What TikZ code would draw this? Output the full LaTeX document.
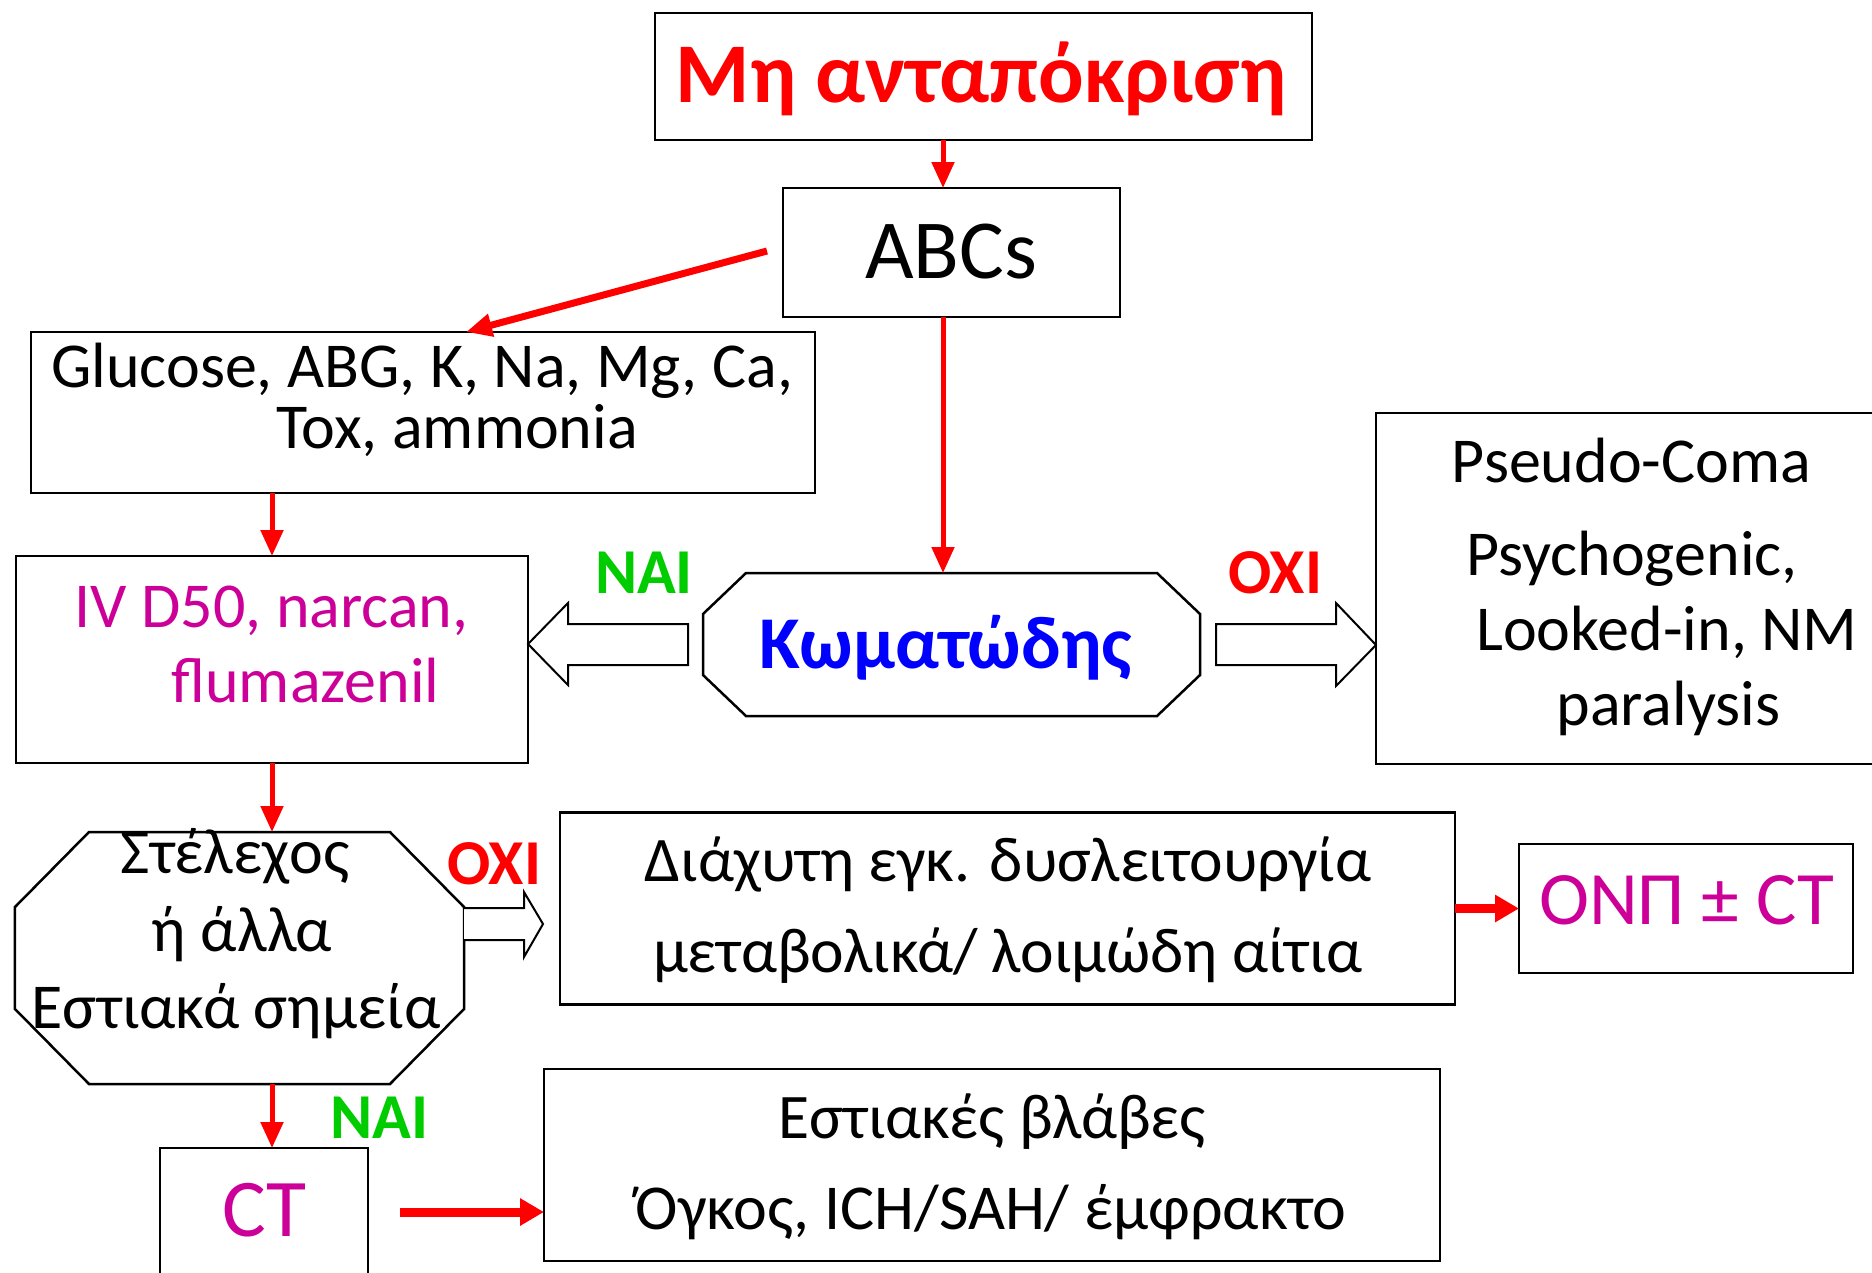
\documentclass[tikz,border=0pt]{standalone}
\usepackage{fontspec}
\setmainfont{Carlito}
\usetikzlibrary{arrows.meta}
\definecolor{myred}{RGB}{255,0,0}
\definecolor{mygreen}{RGB}{0,204,0}
\definecolor{myblue}{RGB}{0,0,255}
\definecolor{mymag}{RGB}{204,0,153}
\newcommand\octdraw[3]{%
  \draw[boxline] ([xshift=#2]#1.north west) -- ([xshift=-#2]#1.north east) -- ([yshift=-#3]#1.north east) -- ([yshift=#3]#1.south east) -- ([xshift=-#2]#1.south east) -- ([xshift=#2]#1.south west) -- ([yshift=#3]#1.south west) -- ([yshift=-#3]#1.north west) -- cycle;}
\begin{document}
\begin{tikzpicture}[x=1bp,y=-1bp,
  boxline/.style={draw=black, line width=2.5bp, fill=white},
  box/.style={boxline, inner sep=0pt, outer sep=0pt},
  ghost/.style={draw=none, inner sep=0pt, outer sep=0pt},
  txt/.style={anchor=base, inner sep=0pt, outer sep=0pt, font=\fontsize{#1bp}{#1bp}\selectfont},
  ra/.style={draw=myred, line width=5bp, -{Triangle[length=26bp,width=22bp]}},
  rthick/.style={draw=myred, line width=9bp, -{Triangle[length=24bp,width=26bp]}},
  barrow/.style={draw=black, line width=2bp, fill=white, line join=miter}
]
\useasboundingbox (0,0) rectangle (1872,1272);
\clip (0,0) rectangle (1872,1272);

% boxes
\node[box, minimum width=657bp, minimum height=127bp] (top) at (983.5,76.5) {};
\node[box, minimum width=337bp, minimum height=129bp] (abc) at (951.5,252.5) {};
\node[box, minimum width=784bp, minimum height=161bp] (glu) at (423,412.5) {};
\node[box, minimum width=512bp, minimum height=207bp] (iv) at (272,659.5) {};
\node[ghost, minimum width=497bp, minimum height=143bp] (kom) at (951.5,644.5) {};
\octdraw{kom}{43bp}{41bp}
\node[box, minimum width=520bp, minimum height=351bp] (pse) at (1636,588.5) {};
\node[ghost, minimum width=449bp, minimum height=252bp] (stel) at (239.5,958) {};
\octdraw{stel}{74bp}{75bp}
\node[box, minimum width=895bp, minimum height=192bp] (dia) at (1007.5,908.5) {};
\node[box, minimum width=334bp, minimum height=129bp] (onp) at (1686,908.5) {};
\node[box, minimum width=896bp, minimum height=192bp] (est) at (992,1165) {};
\node[box, minimum width=208bp, minimum height=150bp] (ct) at (264,1223) {};

% block arrows
\draw[barrow] (688,624) -- (568,624) -- (568,603) -- (iv.east |- 0,644) -- (568,685) -- (568,665) -- (688,665) -- cycle;
\draw[barrow] (1216,624) -- (1336,624) -- (1336,603) -- (pse.west |- 0,645) -- (1336,686) -- (1336,665) -- (1216,665) -- cycle;
\draw[barrow] (stel.east |- 0,908) -- (524,908) -- (524,892) -- (543,924) -- (524,957) -- (524,940) -- (stel.east |- 0,940);

% red connectors
\coordinate (ax) at (943,0);
\coordinate (bx) at (272,0);
\coordinate (gx) at (466,0);
\coordinate (abcs) at (767,251);
\coordinate (cts) at (400,1212);
\draw[ra] (top.south -| ax) -- (abc.north -| ax);
\draw[ra] (abc.south -| ax) -- (kom.north -| ax);
\draw[ra, line width=7bp] (abcs) -- (glu.north -| gx);
\draw[ra] (glu.south -| bx) -- (iv.north -| bx);
\draw[ra] (iv.south -| bx) -- (stel.north -| bx);
\draw[ra] (stel.south -| bx) -- (ct.north -| bx);
\draw[rthick] (dia.east) -- (onp.west);
\draw[rthick] (cts) -- (cts -| est.west);

% texts
\node[txt=85, text=myred] (toptxt) at (981,102) {\bfseries Μη ανταπόκριση};
\node[txt=84] (abctxt) at (951,278) {ABCs};
\node[txt=64] (glu1) at (422,387) {Glucose, ABG, K, Na, Mg, Ca,};
\node[txt=64] (glu2) at (457,448) {Tox, ammonia};
\node[txt=64, text=mymag] (iv1) at (271.5,627) {IV D50, narcan,};
\node[txt=64, text=mymag] (iv2) at (305.5,702) {flumazenil};
\node[txt=74.5, text=myblue] (komtxt) at (945.5,668) {\bfseries Κωματώδης};
\node[txt=64, text=mygreen] (nai1) at (644,593) {\bfseries ΝΑΙ};
\node[txt=64, text=myred] (oxi1) at (1275.5,593) {\bfseries ΟΧΙ};
\node[txt=64] (pse1) at (1631.5,482) {Pseudo-Coma};
\node[txt=64] (pse2) at (1632,575) {Psychogenic,};
\node[txt=64] (pse3) at (1667,650) {Looked-in, NM};
\node[txt=64] (pse4) at (1668.5,725) {paralysis};
\node[txt=64] (stel1) at (235,873) {Στέλεχος};
\node[txt=64] (stel2) at (242,951) {ή άλλα};
\node[txt=64] (stel3) at (236,1028) {Εστιακά σημεία};
\node[txt=64, text=myred] (oxi2) at (494.5,884) {\bfseries ΟΧΙ};
\node[txt=63.5] (dia1) at (1008,881) {Διάχυτη εγκ. δυσλειτουργία};
\node[txt=63.5] (dia2) at (1008,972) {μεταβολικά/ λοιμώδη αίτια};
\node[txt=75.5, text=mymag] (onptxt) at (1686.5,924) {ΟΝΠ ± CT};
\node[txt=63.5] (est1) at (992,1138) {Εστιακές βλάβες};
\node[txt=64] (est2) at (991,1229) {Όγκος, ICH/SAH/ έμφρακτο};
\node[txt=82, text=mymag] (cttxt) at (264.5,1236) {CT};
\node[txt=64, text=mygreen] (nai2) at (379.5,1138) {\bfseries ΝΑΙ};
\end{tikzpicture}
\end{document}
